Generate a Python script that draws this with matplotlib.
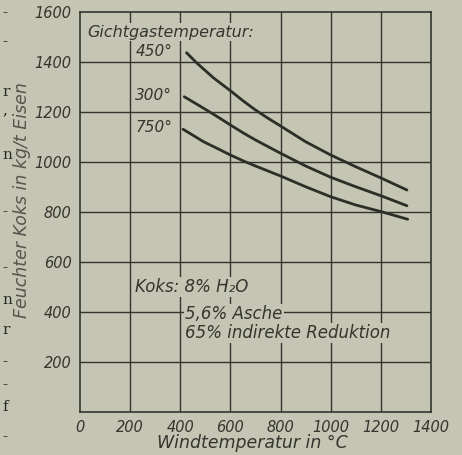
import matplotlib
matplotlib.use("Agg")
import matplotlib.pyplot as plt

# Data
x_450 = [425, 467, 533, 600, 650, 700, 750, 800, 900, 1000, 1100, 1203, 1304]
y_450 = [1437, 1395, 1336, 1285, 1245, 1208, 1175, 1144, 1081, 1028, 981, 935, 888]
x_300 = [416, 493, 550, 600, 650, 700, 800, 900, 1000, 1100, 1203, 1304]
y_300 = [1261, 1215, 1180, 1148, 1117, 1088, 1035, 984, 939, 901, 864, 825]
x_750 = [411, 493, 550, 600, 650, 700, 800, 900, 1000, 1100, 1203, 1307]
y_750 = [1131, 1081, 1053, 1028, 1005, 984, 944, 901, 861, 828, 801, 771]
series_labels = ["450°", "300°", "750°"]
x_ticks = [0, 200, 400, 600, 800, 1000, 1200, 1400]
y_ticks = [200, 400, 600, 800, 1000, 1200, 1400, 1600]

BG = "#c4c5b2"
INK = "#35352e"
W, H = 462, 455

fig = plt.figure(figsize=(W / 100, H / 100), dpi=100)
fig.patch.set_facecolor(BG)
ax = fig.add_axes([80 / W, 43 / H, 351 / W, 400 / H])
ax.set_facecolor(BG)
ax.set_xlim(0, 1400)
ax.set_ylim(0, 1600)

for xv in x_ticks[1:-1]:
    ax.axvline(xv, color=INK, lw=1.0, zorder=1)
for yv in y_ticks[:-1]:
    ax.axhline(yv, color=INK, lw=1.0, zorder=1)
for s in ax.spines.values():
    s.set_color(INK)
    s.set_linewidth(1.2)

ax.set_xticks(x_ticks)
ax.set_yticks(y_ticks)
ax.tick_params(length=0, pad=6, colors=INK, labelsize=10.5)
for lab in ax.get_xticklabels() + ax.get_yticklabels():
    lab.set_fontstyle("italic")

for xs, ys in [(x_450, y_450), (x_300, y_300), (x_750, y_750)]:
    ax.plot(xs, ys, color="#2e2e28", lw=2.0, solid_capstyle="round",
            solid_joinstyle="round", zorder=3)


def px(xp, yp):
    return (xp - 80) * 4, (412 - yp) * 4


tb = dict(facecolor=BG, edgecolor="none", pad=1.0)
ax.text(*px(87, 32), "Gichtgastemperatur:", fontsize=11.5, style="italic",
        color=INK, ha="left", va="center", bbox=tb, zorder=4)
label_pos = [(172, 52), (172, 95), (172, 128)]
for lab, (xp, yp) in zip(series_labels, label_pos):
    ax.text(*px(xp, yp), lab, fontsize=11, style="italic", color=INK,
            ha="right", va="center", bbox=tb, zorder=4)

ax.text(*px(135, 287), "Koks: 8% H₂O", fontsize=12, style="italic",
        color=INK, ha="left", va="center", bbox=tb, zorder=4)
ax.text(*px(185, 314), "5,6% Asche", fontsize=12, style="italic",
        color=INK, ha="left", va="center", bbox=tb, zorder=4)
ax.text(*px(185, 333), "65% indirekte Reduktion", fontsize=12, style="italic",
        color=INK, ha="left", va="center", bbox=tb, zorder=4)

fig.text(252 / W, 1 - 443 / H, "Windtemperatur in °C", fontsize=12.5,
         style="italic", color=INK, ha="center", va="center")
fig.text(22 / W, 1 - 200 / H, "Feuchter Koks in kg/t Eisen", fontsize=12.5,
         style="italic", color="#55554c", ha="center", va="center", rotation=90)

# fragments of the book text in the left margin
margin = [("-", 13), ("-", 42), ("r", 92), (",", 110), ("n", 155), ("-", 212),
          ("-", 268), ("n", 300), ("r", 330), ("-", 362), ("-", 385),
          ("f", 407), ("-", 437)]
for ch, yp in margin:
    fig.text(2 / W, 1 - yp / H, ch, fontsize=11, family="DejaVu Serif",
             color="#2a2a25", ha="left", va="center")

fig.savefig("out.png", dpi=100, facecolor=BG)
